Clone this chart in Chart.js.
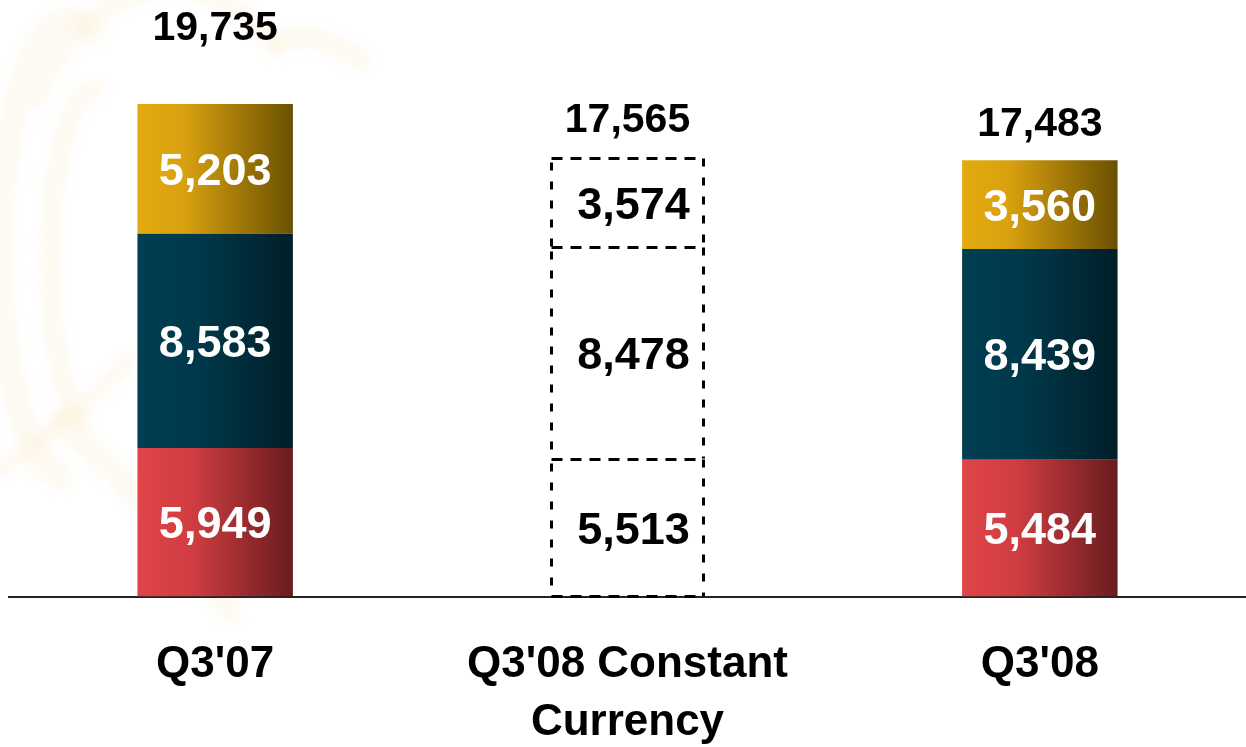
<!DOCTYPE html>
<html>
<head>
<meta charset="utf-8">
<script src="https://cdn.jsdelivr.net/npm/chart.js@4.4.1/dist/chart.umd.min.js"></script>
<style>
  html, body { margin: 0; padding: 0; background: #ffffff; overflow: hidden; }
  #wrap { width: 1246px; height: 747px; position: relative; }
</style>
</head>
<body>
<div id="wrap"><canvas id="c"></canvas></div>
<script>
// ---- Data ----
const categories = ["Q3'07", ["Q3'08 Constant", "Currency"], "Q3'08"];
const seriesBottom = [5949, 5513, 5484];
const seriesMiddle = [8583, 8478, 8439];
const seriesTop = [5203, 3574, 3560];
const totals = [19735, 17565, 17483];
const dashedIndex = 1;

// ---- Styles ----
const FONT = '"Liberation Sans", Arial, Helvetica, sans-serif';
const BAR_PCT = 0.377;
const gradStops = {
  bottom: [[0, '#E04448'], [0.35, '#D03D41'], [1, '#681C1F']],
  middle: [[0, '#003E52'], [0.4, '#00384A'], [1, '#001F29']],
  top:    [[0, '#E3AA0F'], [0.3, '#D9A110'], [1, '#6A5000']]
};

function gradientFill(key) {
  return function (context) {
    if (context.dataIndex === dashedIndex) return 'rgba(0,0,0,0)';
    const chart = context.chart;
    const xs = chart.scales.x;
    if (!chart.chartArea || !xs) return gradStops[key][0][1];
    const cx = xs.getPixelForValue(context.dataIndex);
    const w = (xs.width / categories.length) * BAR_PCT;
    const g = chart.ctx.createLinearGradient(cx - w / 2, 0, cx + w / 2, 0);
    gradStops[key].forEach(s => g.addColorStop(s[0], s[1]));
    return g;
  };
}

const fmt = v => v.toLocaleString('en-US');

// Faint decorative watermark on the left
const watermark = {
  id: 'watermark',
  beforeDraw(chart) {
    const ctx = chart.ctx;
    ctx.save();
    ctx.filter = 'blur(5px)';
    ctx.strokeStyle = 'rgba(240, 205, 110, 0.09)';
    ctx.lineCap = 'round';
    ctx.lineWidth = 26;
    ctx.beginPath(); ctx.ellipse(70, 250, 70, 230, 0, Math.PI * 0.55, Math.PI * 1.6); ctx.stroke();
    ctx.lineWidth = 20;
    ctx.beginPath(); ctx.ellipse(95, 260, 45, 170, 0, Math.PI * 0.6, Math.PI * 1.5); ctx.stroke();
    ctx.lineWidth = 18;
    ctx.beginPath(); ctx.ellipse(170, 190, 150, 200, 0, Math.PI * 1.15, Math.PI * 1.75); ctx.stroke();
    ctx.lineWidth = 24;
    ctx.beginPath(); ctx.moveTo(60, 420); ctx.quadraticCurveTo(150, 500, 230, 610); ctx.stroke();
    ctx.lineWidth = 16;
    ctx.beginPath(); ctx.moveTo(0, 470); ctx.quadraticCurveTo(60, 430, 130, 360); ctx.stroke();
    ctx.lineWidth = 22;
    ctx.beginPath(); ctx.moveTo(280, 40); ctx.quadraticCurveTo(320, 30, 360, 60); ctx.stroke();
    ctx.restore();
  }
};

// Dashed outline boxes for the constant-currency bar
const dashedBoxes = {
  id: 'dashedBoxes',
  afterDatasetsDraw(chart) {
    const ctx = chart.ctx;
    ctx.save();
    ctx.strokeStyle = '#000000';
    ctx.lineWidth = 3;
    const line = (x1, y1, x2, y2) => {
      ctx.beginPath(); ctx.moveTo(x1, y1); ctx.lineTo(x2, y2); ctx.stroke();
    };
    const n = chart.data.datasets.length;
    for (let di = 0; di < n; di++) {
      const el = chart.getDatasetMeta(di).data[dashedIndex];
      if (!el) continue;
      const p = el.getProps(['x', 'y', 'base', 'width'], true);
      const l = Math.round(p.x - p.width / 2) + 1.5, r = Math.round(p.x + p.width / 2) - 1.5;
      const t = Math.round(p.y) + 0.5, b = Math.round(p.base) - 0.5;
      ctx.setLineDash([11, 8]);
      line(l, t, r, t);
      if (di === 0) line(l, b, r, b);
      ctx.setLineDash([8, 11]);
      line(l, t + 4, l, b);
      line(r, t, r, b);
    }
    ctx.restore();
  }
};

// Value labels inside segments and totals above bars
const valueLabels = {
  id: 'valueLabels',
  afterDatasetsDraw(chart, args, opts) {
    const ctx = chart.ctx;
    ctx.save();
    ctx.textAlign = 'center';
    ctx.textBaseline = 'alphabetic';
    const segSize = opts.segmentSize, totSize = opts.totalSize;
    chart.data.datasets.forEach((ds, di) => {
      chart.getDatasetMeta(di).data.forEach((el, i) => {
        const p = el.getProps(['x', 'y', 'base'], true);
        const cy = (p.y + p.base) / 2;
        ctx.font = 'bold ' + segSize + 'px ' + FONT;
        ctx.fillStyle = i === dashedIndex ? '#000000' : '#ffffff';
        ctx.fillText(fmt(ds.data[i]), p.x + opts.labelDx[i], cy + segSize * 0.358);
      });
    });
    const lastMeta = chart.getDatasetMeta(chart.data.datasets.length - 1);
    lastMeta.data.forEach((el, i) => {
      const p = el.getProps(['x', 'y'], true);
      ctx.font = 'bold ' + totSize + 'px ' + FONT;
      ctx.fillStyle = '#000000';
      ctx.fillText(fmt(totals[i]), p.x, p.y - opts.totalGap[i] + totSize * 0.358);
    });
    ctx.restore();
  }
};

new Chart(document.getElementById('c'), {
  type: 'bar',
  data: {
    labels: categories,
    datasets: [
      { label: 'Bottom', data: seriesBottom, backgroundColor: gradientFill('bottom'), borderWidth: 0 },
      { label: 'Middle', data: seriesMiddle, backgroundColor: gradientFill('middle'), borderWidth: 0 },
      { label: 'Top', data: seriesTop, backgroundColor: gradientFill('top'), borderWidth: 0 }
    ]
  },
  options: {
    responsive: true,
    maintainAspectRatio: false,
    animation: false,
    devicePixelRatio: 1,
    layout: { padding: { left: 9, right: -5, top: 0, bottom: -44 } },
    datasets: { bar: { barPercentage: BAR_PCT, categoryPercentage: 1 } },
    plugins: {
      legend: { display: false },
      tooltip: { enabled: false },
      valueLabels: {
        segmentSize: 45,
        totalSize: 41,
        totalGap: [79, 41, 39],
        labelDx: [0, 6, 0]
      }
    },
    scales: {
      x: {
        stacked: true,
        grid: { display: false, drawTicks: false },
        border: { display: true, color: '#222222', width: 2 },
        ticks: {
          color: '#000000',
          padding: 40,
          maxRotation: 0,
          autoSkip: false,
          font: { family: FONT, size: 44, weight: 'bold', lineHeight: 1.3 }
        }
      },
      y: {
        stacked: true,
        display: false,
        min: 0,
        max: 23900
      }
    }
  },
  plugins: [watermark, dashedBoxes, valueLabels]
});
</script>
</body>
</html>
